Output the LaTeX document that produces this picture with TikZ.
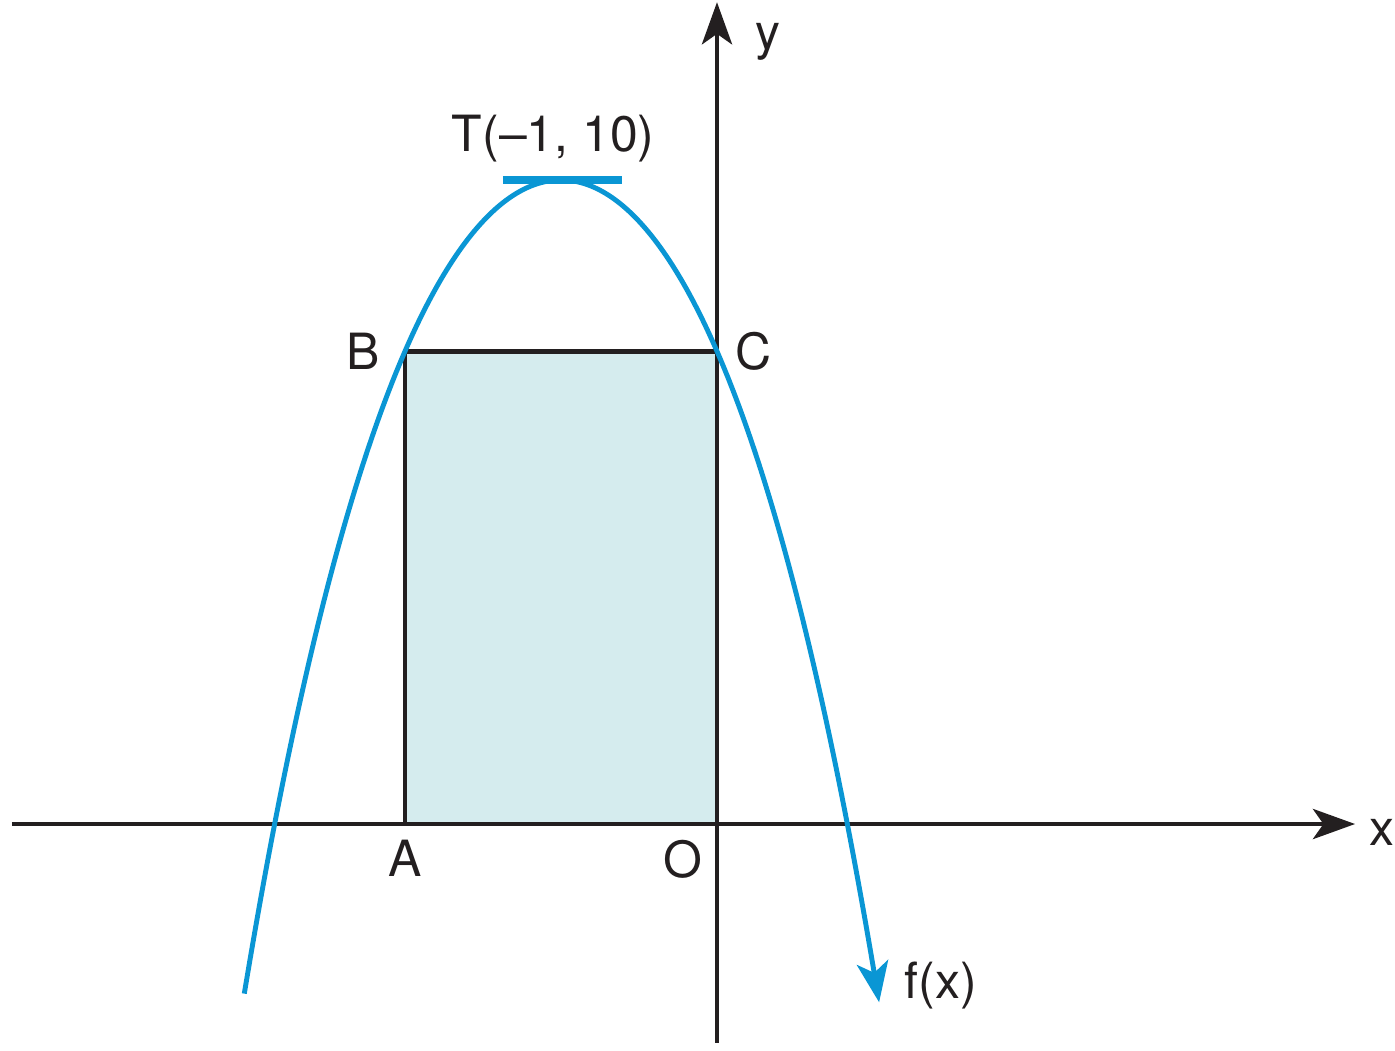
\documentclass[tikz,border=0pt]{standalone}
\usepackage{fontspec}
\setmainfont{TeX Gyre Heros}
\usepackage{tikz}
\usetikzlibrary{arrows.meta, positioning, calc}
\definecolor{curveblue}{HTML}{0A96D4}
\definecolor{rectfill}{HTML}{D5ECEE}
\definecolor{inkblack}{HTML}{231F20}
\tikzset{
  axisline/.style={draw=inkblack, line width=1.1pt, -{Stealth[length=12pt,width=8.6pt,inset=3pt]}},
  edgeline/.style={draw=inkblack, line width=1.3pt, line join=miter},
  ptlabel/.style={font=\fontsize{14.2}{17}\selectfont, text=inkblack, inner sep=0pt},
}

\begin{document}
\begin{tikzpicture}[x=1.56cm, y=0.644cm,
  declare function={f(\t)=10-2.53*(\t+1)^2-0.13*(\t+1)^4;}]%
  \useasboundingbox (-4.596,-3.509) rectangle (4.346,12.795);
  % corners of the rectangle and the vertex
  \coordinate (O) at (0,0);
  \coordinate (A) at (-2,0);
  \coordinate (C) at (0,{f(0)});
  \coordinate (B) at (-2,{f(0)});
  \coordinate (T) at (-1,10);
  \coordinate (Tl) at (-1.372,10);
  \coordinate (Tr) at (-0.609,10);
  \fill[rectfill] (A) rectangle (C);
  % axes
  \coordinate (xl) at (-4.52,0); \coordinate (xr) at (4.09,0);
  \coordinate (yb) at (0,-3.4); \coordinate (yt) at (0,12.76);
  \draw[axisline] (xl) -- (xr);
  \draw[axisline] (yb) -- (yt);
  \draw[edgeline] (A) -- (B) -- (C) -- (O) -- cycle;
  % parabola and its top tangent
  \draw[curveblue, line width=1.4pt, -{Stealth[length=11.5pt,width=9pt,inset=3pt]}]
    plot[domain=-3.03:1.04, samples=120, smooth] (\x,{f(\x)});
  \draw[curveblue, line width=2pt] (Tl) -- (Tr);
  % labels
  \node[ptlabel] (lblT) at (-1.05,10.65) {T(–1, 10)};
  \node[ptlabel, left=7pt] (lblB) at (B) {B};
  \node[ptlabel, right=5pt] (lblC) at (C) {C};
  \node[ptlabel, below=4.5pt] (lblA) at (A) {A};
  \node[ptlabel, below left=4.5pt and 4pt] (lblO) at (O) {O};
  \node[ptlabel, below right=5.7pt and 10.8pt] (lbly) at (yt) {y};
  \node[ptlabel, right=4pt, yshift=-2.3pt] (lblx) at (xr) {x};
  \node[ptlabel, anchor=west] (lblf) at (1.2,-2.5) {f(x)};
\end{tikzpicture}
\end{document}
